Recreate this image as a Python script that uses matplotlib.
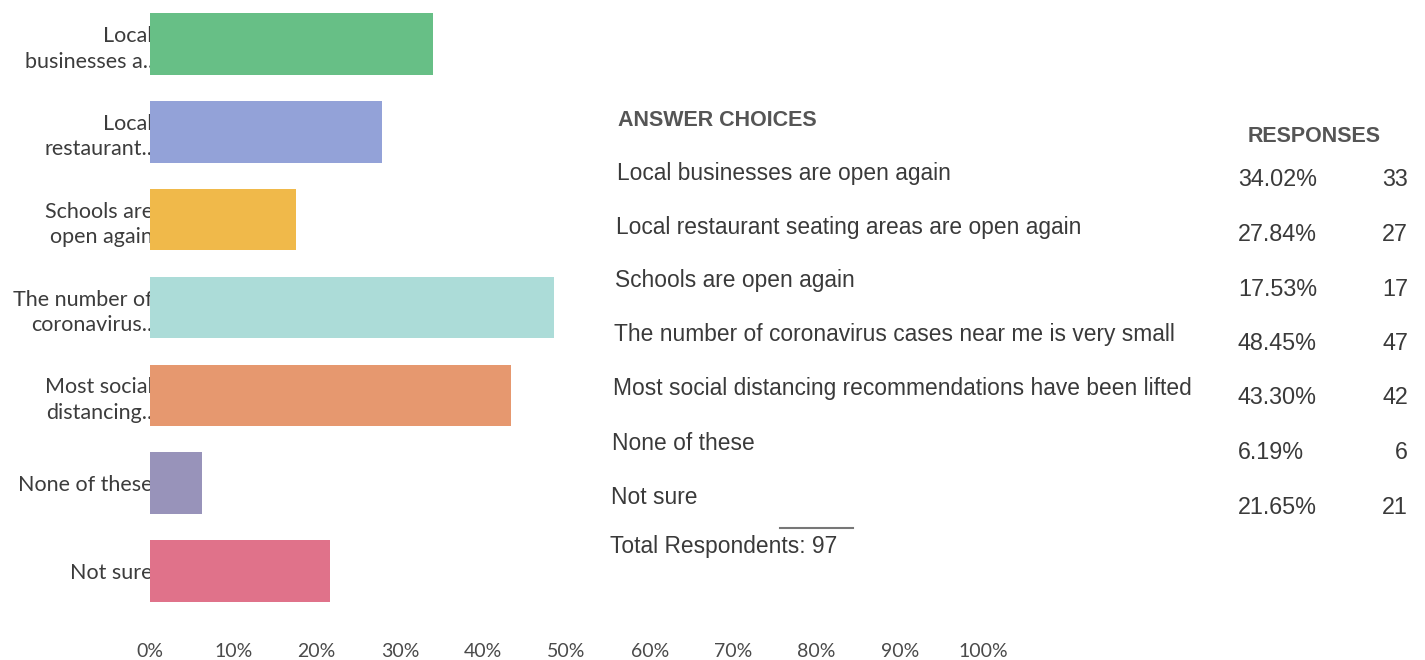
import numpy as np
import matplotlib.pyplot as plt

# data
choices = [
    "Local businesses are open again",
    "Local restaurant seating areas are open again",
    "Schools are open again",
    "The number of coronavirus cases near me is very small",
    "Most social distancing recommendations have been lifted",
    "None of these",
    "Not sure",
]
short_labels = [
    "Local\nbusinesses a..",
    "Local\nrestaurant..",
    "Schools are\nopen again",
    "The number of\ncoronavirus..",
    "Most social\ndistancing..",
    "None of these",
    "Not sure",
]
pct = [34.02, 27.84, 17.53, 48.45, 43.30, 6.19, 21.65]
counts = [33, 27, 17, 47, 42, 6, 21]
total = 97
xticks = [0, 10, 20, 30, 40, 50, 60, 70, 80, 90, 100]
colors = ["#67bf86", "#93a2d8", "#f0b94a", "#acdcd8", "#e6986f", "#9893ba", "#e0728a"]

W, H = 1425, 660
fig = plt.figure(figsize=(W / 100, H / 100), dpi=100)
ax = fig.add_axes([150 / W, 1 - 615 / H, 833 / W, 615 / H])

y = np.arange(len(pct))
ax.barh(y, pct, height=0.7, color=colors, zorder=1)
ax.set_xlim(0, 100)
ax.set_ylim(len(pct) - 0.5, -0.5)
ax.set_axisbelow(True)
for s in ax.spines.values():
    s.set_visible(False)

ax.set_yticks(y)
ax.set_yticklabels(short_labels, fontfamily="Lato", fontsize=15.5, color="#3c3c3c",
                   linespacing=1.35)
ax.set_xticks(xticks)
ax.set_xticklabels([f"{t}%" for t in xticks], fontfamily="Lato", fontsize=14,
                   color="#4a4a4a")
ax.tick_params(axis="y", length=0, pad=-2)
ax.tick_params(axis="x", length=0, pad=20)


def px(x, yy):
    return x / W, 1 - yy / H


tfont = dict(fontfamily="Liberation Sans", color="#3a3a3a")
fig.text(*px(618, 121), "ANSWER CHOICES", fontsize=15.5, fontweight="bold",
         color="#555555", fontfamily="Liberation Sans", va="center")
fig.text(*px(1248, 136), "RESPONSES", fontsize=15.5, fontweight="bold",
         color="#555555", fontfamily="Liberation Sans", va="center")

for i, (c, p, n) in enumerate(zip(choices, pct, counts)):
    fig.text(*px(617 - i, 173 + 54 * i), c, fontsize=16.4, va="center", **tfont)
    fig.text(*px(1238, 180 + 54.5 * i), f"{p:.2f}%", fontsize=16.8, va="center", **tfont)
    fig.text(*px(1408, 180 + 54.5 * i), str(n), fontsize=16.8, va="center", ha="right",
             **tfont)

fig.text(*px(610, 547), f"Total Respondents: {total}", fontsize=16.4, va="center", **tfont)
fig.add_artist(plt.Line2D([780 / W, 853 / W], [1 - 528 / H, 1 - 528 / H],
                          color="#777777", lw=1.5))

fig.savefig("out.png", dpi=100)
